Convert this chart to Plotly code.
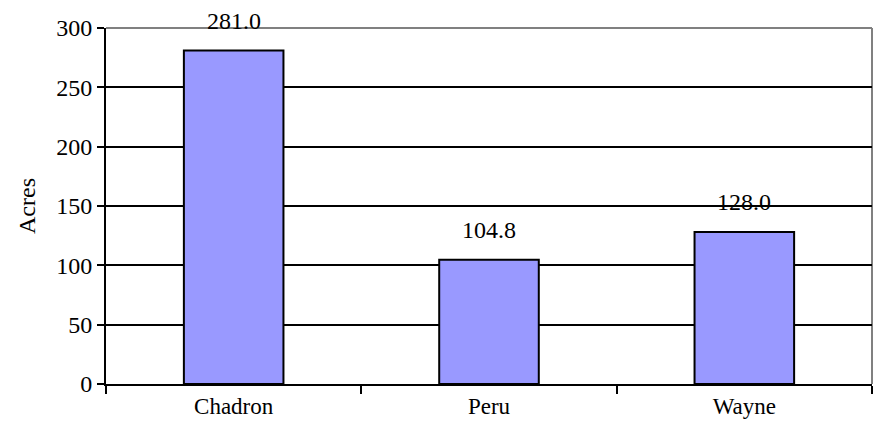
import plotly.graph_objects as go

categories = ["Chadron", "Peru", "Wayne"]
acres = [281.0, 104.8, 128.0]
y_ticks = [0, 50, 100, 150, 200, 250, 300]

FONT = "Liberation Serif"

fig = go.Figure()
fig.add_trace(go.Bar(
    x=categories, y=acres,
    marker=dict(color="#9999FF", line=dict(color="black", width=2)),
    width=0.39,
    hoverinfo="skip",
))

for c, v in zip(categories, acres):
    fig.add_annotation(x=c, y=v, text=f"{v:.1f}", showarrow=False,
                       yanchor="bottom", yshift=15,
                       font=dict(family=FONT, size=24, color="black"))

fig.update_layout(
    width=878, height=439,
    margin=dict(l=106, r=6, t=28, b=55),
    paper_bgcolor="white", plot_bgcolor="white",
    showlegend=False,
    font=dict(family=FONT, size=24, color="black"),
    xaxis=dict(
        tickson="boundaries", ticks="outside", ticklen=8, tickwidth=2, tickcolor="black",
        showline=True, linecolor="black", linewidth=2,
        showgrid=False, tickfont=dict(family=FONT, size=23, color="black"),
        range=[-0.5, 2.5],
    ),
    yaxis=dict(
        range=[0, 300], tickvals=y_ticks, ticks="outside", ticklen=7, tickwidth=2,
        tickcolor="black", showline=True, linecolor="black", linewidth=2,
        showgrid=True, gridcolor="black", gridwidth=1.5,
        zeroline=False,
        title=dict(text="Acres", font=dict(family=FONT, size=24), standoff=14),
        tickfont=dict(family=FONT, size=24, color="black"),
    ),
)

fig.add_shape(type="line", xref="paper", yref="paper", x0=0, x1=1, y0=1, y1=1,
              line=dict(color="#808080", width=2), layer="below")
fig.add_shape(type="line", xref="paper", yref="paper", x0=1, x1=1, y0=0, y1=1,
              line=dict(color="#808080", width=2), layer="below")

post = (
    "document.body.style.margin='0';document.body.style.padding='0';"
    "var gd=document.getElementById('{plot_id}');"
    "if (document.fonts && document.fonts.ready) {"
    "  document.fonts.ready.then(function(){ Plotly.redraw(gd); });"
    "}"
)
fig.write_html("out.html", config={"displayModeBar": False}, post_script=post)
